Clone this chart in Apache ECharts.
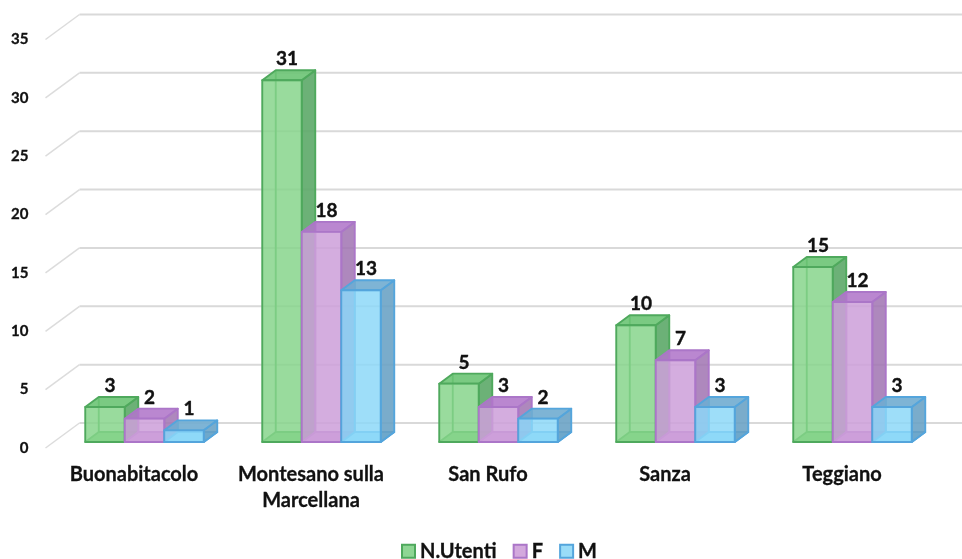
<!DOCTYPE html>
<html>
<head>
<meta charset="utf-8">
<style>html,body{margin:0;padding:0;background:#fff}#c{width:962px;height:559px}</style>
<script src="https://cdn.jsdelivr.net/npm/echarts@6/dist/echarts.min.js"></script>
</head>
<body>
<div id="c"></div>
<script>
const categories = ['Buonabitacolo', 'Montesano sulla\nMarcellana', 'San Rufo', 'Sanza', 'Teggiano'];
const nUtenti = [3, 31, 5, 10, 15];
const femmine = [2, 18, 3, 7, 12];
const maschi = [1, 13, 2, 3, 3];
const yTicks = [0, 5, 10, 15, 20, 25, 30, 35];

const FONT = 'Lato';
const WALL = [34, -25], FRONT = [10.5, -6], BACK = [24, -16];
const BAR_FRACTION = 39.5 / 177;

const palettes = {
  green: { face: 'rgba(134,212,138,0.84)', side: 'rgba(92,168,104,0.9)', top: 'rgba(108,196,116,0.9)', floor: 'rgba(120,205,125,0.85)', edge: '#4fa95d', swatch: '#8fd694' },
  purple: { face: 'rgba(205,160,218,0.86)', side: 'rgba(160,115,178,0.85)', top: 'rgba(176,118,202,0.88)', floor: 'rgba(196,140,214,0.85)', edge: '#ab76c8', swatch: '#d3a9dd' },
  blue: { face: 'rgba(140,216,248,0.84)', side: 'rgba(104,160,196,0.88)', top: 'rgba(112,172,208,0.9)', floor: 'rgba(140,215,248,0.85)', edge: '#54a5dc', swatch: '#9adcf8' }
};

function barSeries(name, values, slot, pal) {
  return {
    type: 'custom', name: name, clip: false, silent: true, z: 3 + slot,
    itemStyle: { color: pal.swatch, borderColor: pal.edge, borderWidth: 1.5 },
    data: values.map((v, i) => [i, v]),
    renderItem: function (params, api) {
      const i = api.value(0), v = api.value(1);
      const base = api.coord([i, 0]), tip = api.coord([i, v]);
      const w = api.size([1, 0])[0] * BAR_FRACTION;
      const x0 = base[0] + (slot - 0.5) * w + FRONT[0], x1 = x0 + w;
      const yb = base[1] + FRONT[1], yt = tip[1] + FRONT[1];
      const dx = BACK[0] - FRONT[0], dy = BACK[1] - FRONT[1];
      const line = { stroke: pal.edge, lineWidth: 1.9, lineJoin: 'round' };
      const poly = (pts, fill) => ({ type: 'polygon', shape: { points: pts }, style: Object.assign({ fill: fill }, line) });
      return {
        type: 'group',
        children: [
          poly([[x0, yb], [x1, yb], [x1 + dx, yb + dy], [x0 + dx, yb + dy]], pal.floor),
          { type: 'line', shape: { x1: x0 + dx, y1: yb + dy, x2: x0 + dx, y2: yt + dy }, style: line },
          poly([[x1, yb], [x1 + dx, yb + dy], [x1 + dx, yt + dy], [x1, yt]], pal.side),
          poly([[x0, yt], [x1, yt], [x1 + dx, yt + dy], [x0 + dx, yt + dy]], pal.top),
          poly([[x0, yb], [x1, yb], [x1, yt], [x0, yt]], pal.face),
          { type: 'text', style: {
              text: String(v), x: (x0 + x1) / 2 + 5, y: yt + dy - 11,
              align: 'center', verticalAlign: 'middle',
              font: 'bold 19px ' + FONT, fill: '#111', stroke: '#111', lineWidth: 0.4
          } }
        ]
      };
    }
  };
}

const wallSeries = {
  type: 'custom', name: 'wall', clip: false, silent: true, z: 1,
  data: yTicks.map(t => [0, t]),
  renderItem: function (params, api) {
    const p = api.coord([0, api.value(1)]);
    const x = params.coordSys.x, y = p[1];
    return {
      type: 'group',
      children: [
        { type: 'line', shape: { x1: x, y1: y, x2: x + WALL[0], y2: y + WALL[1] }, style: { stroke: '#dcdcdc', lineWidth: 1.5 } },
        { type: 'line', shape: { x1: x + WALL[0], y1: y + WALL[1], x2: 962, y2: y + WALL[1] }, style: { stroke: '#d9d9d9', lineWidth: 2 } }
      ]
    };
  }
};

const chart = echarts.init(document.getElementById('c'), null, { renderer: 'canvas' });
chart.setOption({
  animation: false,
  backgroundColor: '#fff',
  grid: { left: 45.5, top: 39.5, width: 885, height: 408.5, containLabel: false },
  legend: {
    left: 396, top: 536, itemWidth: 13, itemHeight: 13, itemGap: 16, icon: 'rect',
    data: ['N.Utenti', 'F', 'M'],
    textStyle: { fontFamily: FONT, fontWeight: 'bold', fontSize: 20, color: '#111', textBorderColor: '#111', textBorderWidth: 0.3 }
  },
  xAxis: {
    type: 'category', data: categories,
    axisLine: { show: false }, axisTick: { show: false }, splitLine: { show: false },
    axisLabel: { margin: 14, fontFamily: FONT, fontWeight: 'bold', fontSize: 20, lineHeight: 26, color: '#111', interval: 0, textBorderColor: '#111', textBorderWidth: 0.3 }
  },
  yAxis: {
    type: 'value', min: 0, max: 35, interval: 5,
    axisLine: { show: false }, axisTick: { show: false }, splitLine: { show: false },
    axisLabel: { margin: 17, fontFamily: FONT, fontWeight: 'bold', fontSize: 15, color: '#111', padding: [2, 0, 0, 0], textBorderColor: '#111', textBorderWidth: 0.3 }
  },
  series: [
    wallSeries,
    barSeries('N.Utenti', nUtenti, -1, palettes.green),
    barSeries('F', femmine, 0, palettes.purple),
    barSeries('M', maschi, 1, palettes.blue)
  ]
});
</script>
</body>
</html>
